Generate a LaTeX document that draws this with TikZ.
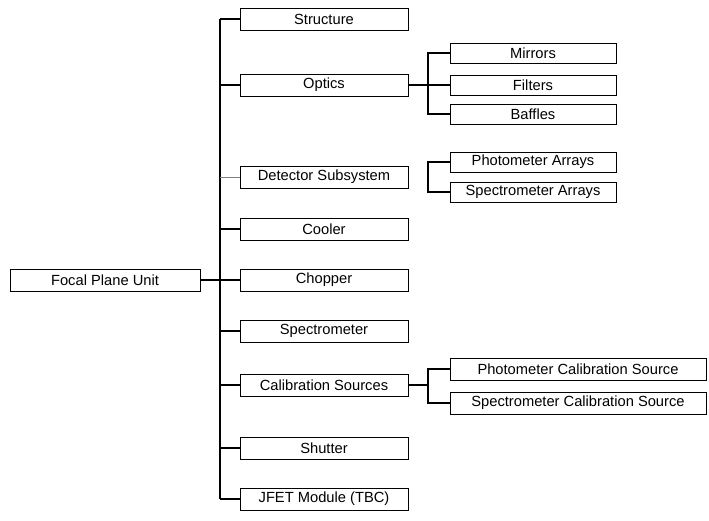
\documentclass[tikz,border=0pt]{standalone}
\usepackage{fontspec}
\setmainfont{Liberation Sans}
\usetikzlibrary{calc}

\begin{document}
\begin{tikzpicture}[x=1pt,y=-1pt,
        unitbox/.style={draw,line width=0.8pt,inner sep=0pt,minimum height=22pt,
            font=\fontsize{14.7}{17}\selectfont},
        topbox/.style={unitbox,minimum width=190pt},
        mainbox/.style={unitbox,minimum width=168pt},
        subbox/.style={unitbox,minimum width=166pt,minimum height=20pt},
        widebox/.style={unitbox,minimum width=256pt},
        branch/.style={line width=1.2pt}]
        \useasboundingbox (0,0) rectangle (709,520);
        % 顶层单元
        \node [topbox] (fpu) at (105,280) {Focal Plane Unit};
        % 子系统
        \node [mainbox] (structure) at (324,19) {Structure};
        \node [mainbox] (optics) at (324,85) {Optics};
        \node [mainbox] (detector) at (324,177) {Detector Subsystem};
        \node [mainbox] (cooler) at (324,229) {Cooler};
        \node [mainbox] (chopper) at (324,280) {Chopper};
        \node [mainbox] (spectro) at (324,331) {Spectrometer};
        \node [mainbox] (calib) at (324,385) {Calibration Sources};
        \node [mainbox] (shutter) at (324,448) {Shutter};
        \node [mainbox] (jfet) at (324,499) {JFET Module (TBC)};
        % 光学部件
        \node [subbox] (mirrors) at (533,53) {Mirrors};
        \node [subbox] (filters) at (533,85) {Filters};
        \node [subbox] (baffles) at (533,114) {Baffles};
        % 探测器阵列
        \node [subbox] (phtarr) at (533,162) {Photometer Arrays};
        \node [subbox] (spcarr) at (533,192) {Spectrometer Arrays};
        % 定标源
        \node [widebox] (phtcal) at (578,369) {Photometer Calibration Source};
        \node [widebox] (spccal) at (578,403) {Spectrometer Calibration Source};
        % 主干与分支
        \coordinate (trunk) at (220,0);
        \coordinate (sub) at (428,0);
        \draw [branch] (structure.west -| trunk) -- (jfet.west -| trunk);
        \draw [branch] (fpu.east) -- (chopper.west);
        \draw [branch] (structure.west) -- (structure.west -| trunk);
        \draw [branch] (optics.west) -- (optics.west -| trunk);
        \draw [gray,line width=0.5pt] (detector.west) -- (detector.west -| trunk);
        \draw [branch] (cooler.west) -- (cooler.west -| trunk);
        \draw [branch] (spectro.west) -- (spectro.west -| trunk);
        \draw [branch] (calib.west) -- (calib.west -| trunk);
        \draw [branch] (shutter.west) -- (shutter.west -| trunk);
        \draw [branch] (jfet.west) -- (jfet.west -| trunk);
        % 二级分支
        \draw [branch] (mirrors.west) -- (mirrors.west -| sub) -- (baffles.west -| sub) -- (baffles.west);
        \draw [branch] (optics.east) -- (filters.west);
        \draw [branch] (phtarr.west) -- (phtarr.west -| sub) -- (spcarr.west -| sub) -- (spcarr.west);
        \draw [branch] (phtcal.west) -- (phtcal.west -| sub) -- (spccal.west -| sub) -- (spccal.west);
        \draw [branch] (calib.east) -- (calib.east -| sub);

    \end{tikzpicture}
\end{document}
